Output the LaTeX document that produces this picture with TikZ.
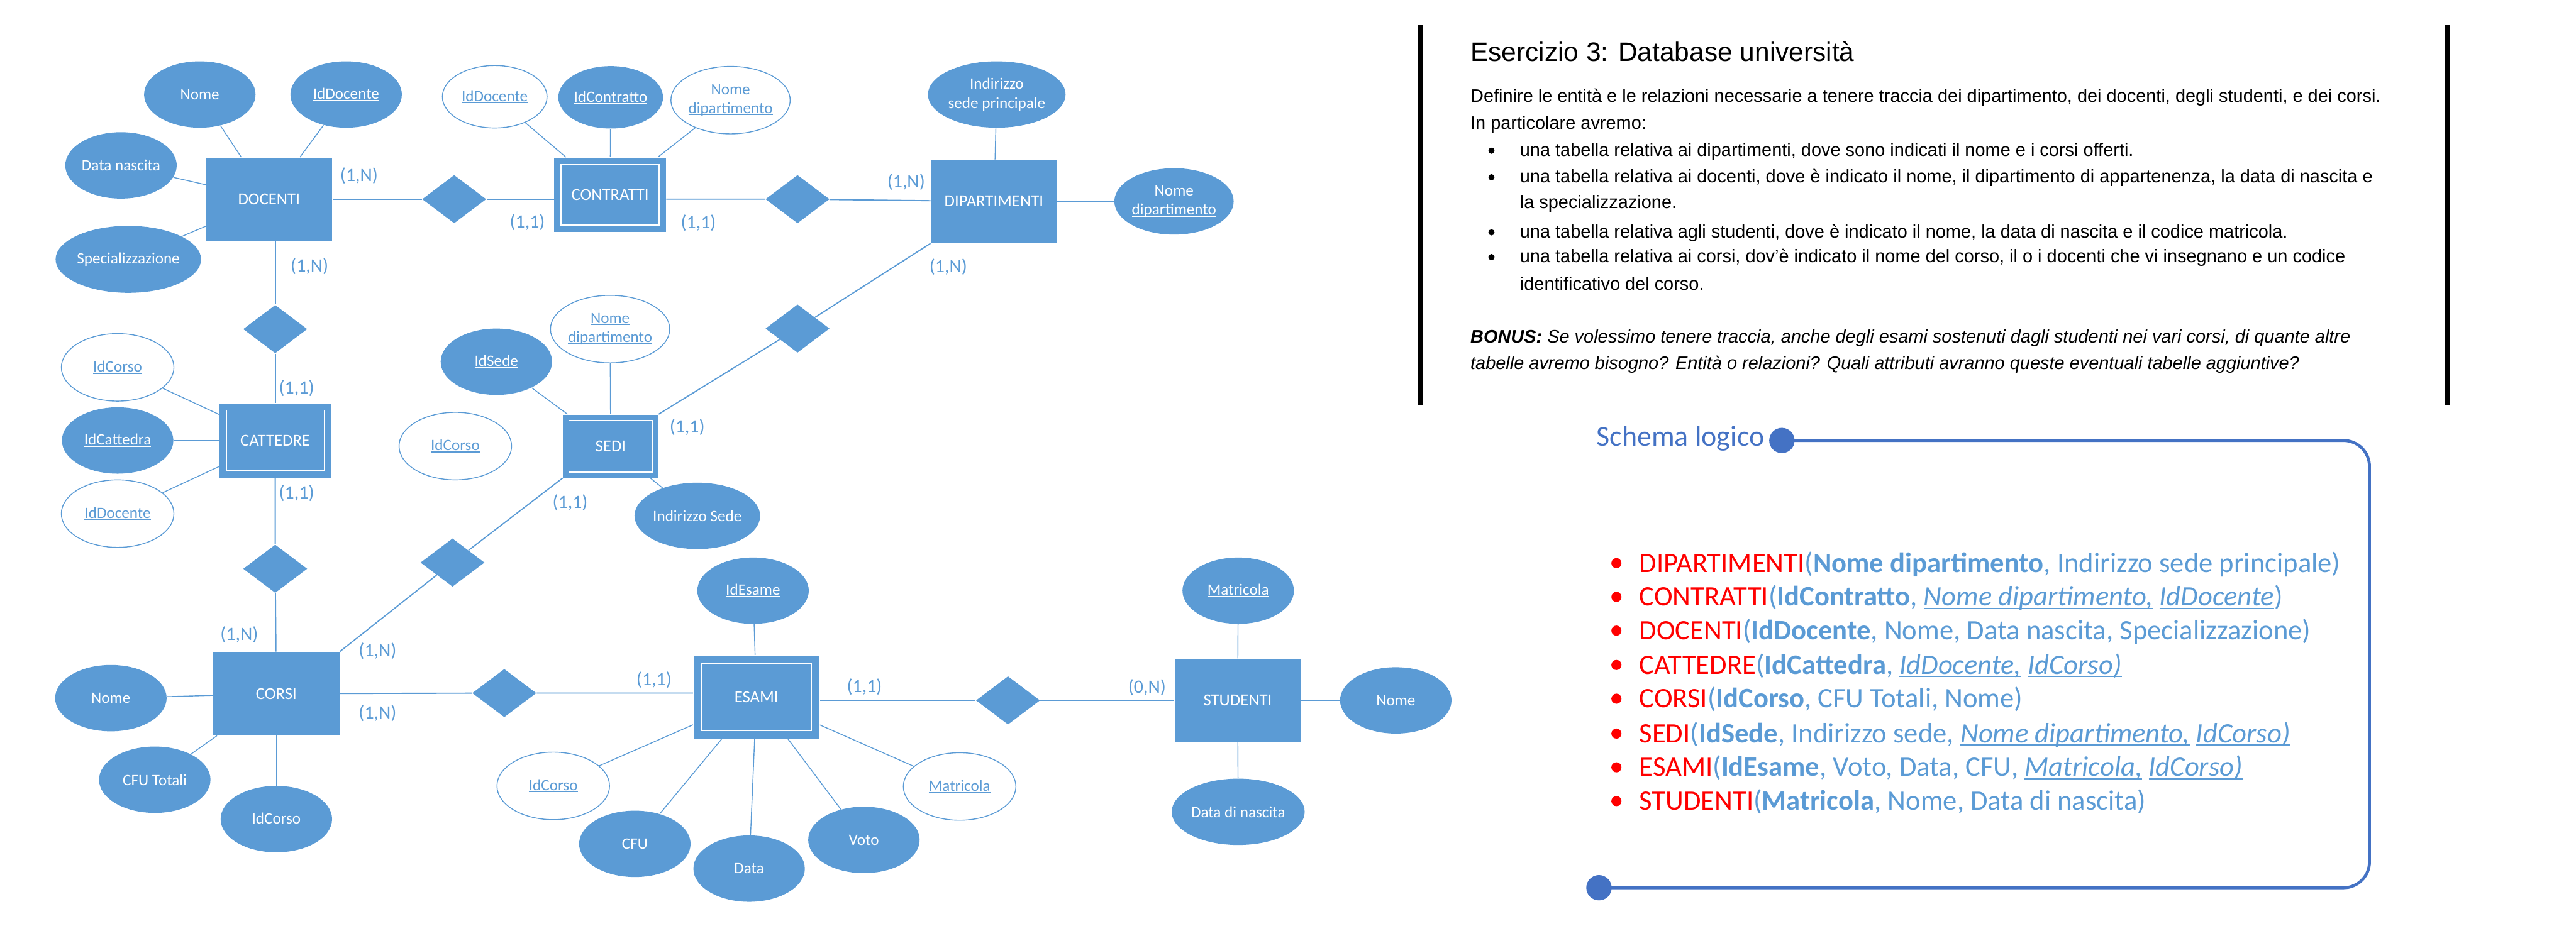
\documentclass[tikz,border=0pt]{standalone}
\usepackage{fontspec}
\setmainfont{Carlito}
\newfontfamily\descfont{Liberation Sans}
\usetikzlibrary{shapes.geometric}
\definecolor{erblue}{HTML}{5B9BD5}
\definecolor{schemablue}{HTML}{4472C4}
\definecolor{keyred}{HTML}{FF0000}
\newsavebox\ulbox
\newcommand{\undl}[1]{\sbox\ulbox{#1}\rlap{\rule[-0.12em]{\wd\ulbox}{0.06em}}\usebox\ulbox}
\begin{document}
\begin{tikzpicture}[
    entity/.style={rectangle, fill=erblue, text=white, minimum width=2.24cm, minimum height=1.48cm, inner sep=0pt, font=\fontsize{8.5}{10}\selectfont},
    weak/.style={entity, path picture={\draw[white, line width=0.5pt] ([shift={(#1,-#1)}]path picture bounding box.north west) rectangle ([shift={(-#1,#1)}]path picture bounding box.south east);}},
    weak/.default=0.12,
    rel/.style={diamond, fill=erblue, minimum width=1.14cm, minimum height=0.86cm, inner sep=0pt},
    attr/.style={ellipse, fill=erblue, text=white, minimum width=1.98cm, minimum height=1.18cm, inner sep=0pt, align=center, font=\fontsize{8}{9.6}\selectfont},
    fk/.style={attr, fill=white, draw=erblue, line width=0.45pt, text=erblue, minimum width=2cm, minimum height=1.2cm},
    card/.style={text=erblue, inner sep=0pt, font=\fontsize{9.5}{11}\selectfont},
    link/.style={draw=erblue, line width=0.6pt},
    alink/.style={draw=erblue, line width=0.45pt},
    desc/.style={inner sep=0pt, anchor=base west, font=\descfont\fontsize{9.2}{11}\selectfont},
    item/.style={inner sep=0pt, anchor=base west, text=erblue, font=\fontsize{14.2}{16}\selectfont}
  ]
  \useasboundingbox (0,0) rectangle (45.77,-16.54);

  % entita'
  \node[entity] (docenti) at (4.78,-3.54) {DOCENTI};
  \node[weak, minimum width=1.98cm, minimum height=1.32cm] (contratti) at (10.84,-3.46) {CONTRATTI};
  \node[entity] (dipartimenti) at (17.66,-3.58) {DIPARTIMENTI};
  \node[weak, minimum width=1.98cm, minimum height=1.32cm] (cattedre) at (4.89,-7.83) {CATTEDRE};
  \node[weak=0.1, minimum width=1.69cm, minimum height=1.12cm] (sedi) at (10.85,-7.93) {SEDI};
  \node[entity] (corsi) at (4.91,-12.33) {CORSI};
  \node[weak=0.14] (esami) at (13.44,-12.39) {ESAMI};
  \node[entity] (studenti) at (21.99,-12.45) {STUDENTI};

  % relazioni
  \node[rel] (r1) at (8.07,-3.54) {};
  \node[rel] (r2) at (14.17,-3.54) {};
  \node[rel] (r3) at (4.89,-5.85) {};
  \node[rel] (r4) at (4.89,-10.11) {};
  \node[rel] (r5) at (8.04,-10.00) {};
  \node[rel] (r6) at (14.17,-5.84) {};
  \node[rel] (r7) at (8.96,-12.32) {};
  \node[rel] (r8) at (17.91,-12.45) {};

  \draw[link] (docenti) -- (r1) -- (r1 -| contratti.west);
  \draw[link] (r2 -| contratti.east) -- (r2) -- (dipartimenti);
  \draw[link] (r3 |- docenti.south) -- (r3) -- (cattedre);
  \draw[link] (cattedre) -- (r4) -- (corsi);
  \draw[link] (corsi.north east) -- (r5) -- (sedi.south west);
  \draw[link] (sedi.north east) -- (r6) -- (dipartimenti.south west);
  \draw[link] (corsi) -- (r7) -- (r7 -| esami.west);
  \draw[link] (r8 -| esami.east) -- (r8) -- (studenti);

  % attributi
  \node[attr] (nomeDoc) at (3.55,-1.68) {Nome};
  \node[attr] (idDoc) at (6.15,-1.68) {\undl{IdDocente}};
  \node[attr] (dataNasc) at (2.15,-2.94) {Data nascita};
  \node[attr, minimum width=2.24cm, minimum height=1.19cm] (spec) at (2.28,-4.61) {Specializzazione};
  \node[fk, minimum width=1.86cm, minimum height=1.11cm] (idDocContr) at (8.79,-1.72) {\undl{IdDocente}};
  \node[attr, minimum width=1.86cm, minimum height=1.11cm] (idContr) at (10.85,-1.73) {\undl{IdContratto}};
  \node[fk] (nomeDipContr) at (12.98,-1.78) {\undl{Nome}\\\undl{dipartimento}};
  \node[attr] (indirizzo) at (17.71,-1.68) {Indirizzo\\sede principale};
  \node[attr] (nomeDip) at (20.86,-3.58) {\undl{Nome}\\\undl{dipartimento}};
  \node[fk] (idCorsoCatt) at (2.09,-6.53) {\undl{IdCorso}};
  \node[attr] (idCatt) at (2.09,-7.83) {\undl{IdCattedra}};
  \node[fk] (idDocCatt) at (2.09,-9.13) {\undl{IdDocente}};
  \node[attr] (idSede) at (8.82,-6.43) {\undl{IdSede}};
  \node[fk] (nomeDipSede) at (10.84,-5.85) {\undl{Nome}\\\undl{dipartimento}};
  \node[fk] (idCorsoSede) at (8.09,-7.93) {\undl{IdCorso}};
  \node[attr] (indSede) at (12.39,-9.17) {Indirizzo Sede};
  \node[attr] (nomeCorso) at (1.97,-12.41) {Nome};
  \node[attr] (cfuTot) at (2.75,-13.86) {CFU Totali};
  \node[attr] (idCorso) at (4.91,-14.56) {\undl{IdCorso}};
  \node[attr] (idEsame) at (13.38,-10.50) {\undl{IdEsame}};
  \node[fk] (idCorsoEs) at (9.83,-13.97) {\undl{IdCorso}};
  \node[attr] (cfu) at (11.28,-15.00) {CFU};
  \node[attr] (data) at (13.31,-15.44) {Data};
  \node[attr] (voto) at (15.35,-14.93) {Voto};
  \node[fk] (matrEs) at (17.05,-13.98) {\undl{Matricola}};
  \node[attr] (matr) at (22.00,-10.50) {\undl{Matricola}};
  \node[attr] (nomeStud) at (24.80,-12.45) {Nome};
  \node[attr] (dataDiNasc) at (22.00,-14.43) {Data di nascita};

  \foreach \a in {nomeDoc,idDoc,dataNasc,spec} \draw[alink] (\a) -- (docenti);
  \foreach \a in {idDocContr,idContr,nomeDipContr} \draw[alink] (\a) -- (contratti);
  \foreach \a in {indirizzo,nomeDip} \draw[alink] (\a) -- (dipartimenti);
  \foreach \a in {idCorsoCatt,idCatt,idDocCatt} \draw[alink] (\a) -- (cattedre);
  \foreach \a in {idSede,nomeDipSede,idCorsoSede,indSede} \draw[alink] (\a) -- (sedi);
  \foreach \a in {nomeCorso,cfuTot,idCorso} \draw[alink] (\a) -- (corsi);
  \foreach \a in {idEsame,idCorsoEs,cfu,data,voto,matrEs} \draw[alink] (\a) -- (esami);
  \foreach \a in {matr,nomeStud,dataDiNasc} \draw[alink] (\a) -- (studenti);

  % cardinalita'
  \node[card] (c1) at (6.38,-3.12) {(1,N)};
  \node[card] (c2) at (9.37,-3.95) {(1,1)};
  \node[card] (c3) at (12.41,-3.96) {(1,1)};
  \node[card] (c4) at (5.50,-4.73) {(1,N)};
  \node[card] (c5) at (5.27,-6.90) {(1,1)};
  \node[card] (c6) at (16.10,-3.24) {(1,N)};
  \node[card] (c7) at (16.85,-4.74) {(1,N)};
  \node[card] (c8) at (5.27,-8.77) {(1,1)};
  \node[card] (c9) at (12.21,-7.59) {(1,1)};
  \node[card] (c10) at (10.13,-8.93) {(1,1)};
  \node[card] (c11) at (4.25,-11.28) {(1,N)};
  \node[card] (c12) at (6.71,-11.57) {(1,N)};
  \node[card] (c13) at (11.62,-12.09) {(1,1)};
  \node[card] (c14) at (6.71,-12.68) {(1,N)};
  \node[card] (c15) at (15.36,-12.21) {(1,1)};
  \node[card] (c16) at (20.38,-12.22) {(0,N)};

  % testo dell'esercizio
  \draw[line width=2.3pt] (25.24,-0.44) -- (25.24,-7.21);
  \draw[line width=2.3pt] (43.49,-0.44) -- (43.49,-7.21);
  \node[desc, font=\descfont\fontsize{13.5}{16}\selectfont] (titolo) at (26.12,-1.09) {Esercizio 3: Database università};
  \node[desc] (t1) at (26.12,-1.82) {Definire le entità e le relazioni necessarie a tenere traccia dei dipartimento, dei docenti, degli studenti, e dei corsi.};
  \node[desc] (t2) at (26.12,-2.30) {In particolare avremo:};
  \node[desc] (t3) at (27.00,-2.78) {una tabella relativa ai dipartimenti, dove sono indicati il nome e i corsi offerti.};
  \node[desc] (t4) at (27.00,-3.25) {una tabella relativa ai docenti, dove è indicato il nome, il dipartimento di appartenenza, la data di nascita e};
  \node[desc] (t5) at (27.00,-3.70) {la specializzazione.};
  \node[desc] (t6) at (27.00,-4.23) {una tabella relativa agli studenti, dove è indicato il nome, la data di nascita e il codice matricola.};
  \node[desc] (t7) at (27.00,-4.67) {una tabella relativa ai corsi, dov’è indicato il nome del corso, il o i docenti che vi insegnano e un codice};
  \node[desc] (t8) at (27.00,-5.16) {identificativo del corso.};
  \node[desc] (t9) at (26.12,-6.09) {\textbf{\textit{BONUS:}} \textit{Se volessimo tenere traccia, anche degli esami sostenuti dagli studenti nei vari corsi, di quante altre}};
  \node[desc] (t10) at (26.12,-6.56) {\textit{tabelle avremo bisogno? Entità o relazioni? Quali attributi avranno queste eventuali tabelle aggiuntive?}};
  \foreach \y in {2.78,3.25,4.23,4.67} \fill (26.50,-\y+0.10) circle (0.055);

  % schema logico
  \node[inner sep=0pt, anchor=base west, text=schemablue, font=\fontsize{14.6}{17}\selectfont] (schema) at (28.36,-7.93) {Schema logico};
  \coordinate (dotA) at (31.66,-7.83);
  \coordinate (dotB) at (28.41,-15.78);
  \draw[schemablue, line width=1.5pt, rounded corners=4.6mm] (dotA) -- (42.10,-7.83) -- (42.10,-15.78) -- (dotB);
  \fill[schemablue] (dotA) circle (0.225);
  \fill[schemablue] (dotB) circle (0.225);

  \node[item] (l1) at (29.12,-10.17) {\textcolor{keyred}{DIPARTIMENTI}(\textbf{Nome dipartimento}, Indirizzo sede principale)};
  \node[item] (l2) at (29.12,-10.77) {\textcolor{keyred}{CONTRATTI}(\textbf{IdContratto}, \undl{\textit{Nome dipartimento,}} \undl{\textit{IdDocente}})};
  \node[item] (l3) at (29.12,-11.37) {\textcolor{keyred}{DOCENTI}(\textbf{IdDocente}, Nome, Data nascita, Specializzazione)};
  \node[item] (l4) at (29.12,-11.98) {\textcolor{keyred}{CATTEDRE}(\textbf{IdCattedra}, \undl{\textit{IdDocente,}} \undl{\textit{IdCorso)}}};
  \node[item] (l5) at (29.12,-12.58) {\textcolor{keyred}{CORSI}(\textbf{IdCorso}, CFU Totali, Nome)};
  \node[item] (l6) at (29.12,-13.20) {\textcolor{keyred}{SEDI}(\textbf{IdSede}, Indirizzo sede, \undl{\textit{Nome dipartimento,}} \undl{\textit{IdCorso)}}};
  \node[item] (l7) at (29.12,-13.80) {\textcolor{keyred}{ESAMI}(\textbf{IdEsame}, Voto, Data, CFU, \undl{\textit{Matricola,}} \undl{\textit{IdCorso)}}};
  \node[item] (l8) at (29.12,-14.40) {\textcolor{keyred}{STUDENTI}(\textbf{Matricola}, Nome, Data di nascita)};
  \foreach \y in {10.17,10.77,11.37,11.98,12.58,13.20,13.80,14.40} \fill[keyred] (28.72,-\y+0.16) circle (0.09);
\end{tikzpicture}
\end{document}
